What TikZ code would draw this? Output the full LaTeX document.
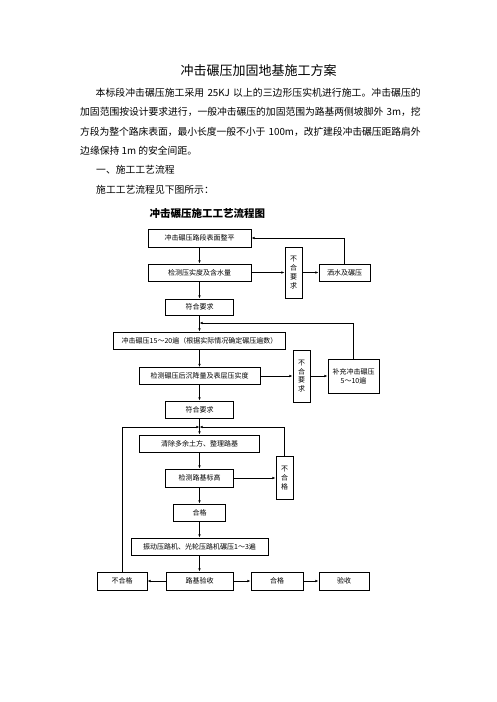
\documentclass[tikz,border=0pt]{standalone}
\usepackage{fontspec}
\setmainfont{Noto Sans CJK SC}
\usetikzlibrary{arrows.meta}
\XeTeXlinebreaklocale "zh"
\XeTeXlinebreakskip=0pt plus 2pt minus 0.5pt
\XeTeXlinebreakpenalty=10000
\begin{document}
\begin{tikzpicture}
[x=1pt,y=-1pt,%
  boxdecorate/.style={draw,line width=0.9pt,inner sep=0pt,align=center,
    font=\fontsize{7}{8.8}\selectfont},%
  linedecorate/.style={-{Latex[length=3.2pt,width=2.6pt]},line width=0.8pt},%
  textdecorate/.style={anchor=west,inner sep=0pt,font=\fontsize{9.8}{19}\selectfont}]
\fill[white] (0,0) rectangle (496,702);
\useasboundingbox (0,0) rectangle (496,702);
%% heading and text
\node (title) at (258.5,71) [inner sep=0pt,font=\fontsize{13}{15}\selectfont] {冲击碾压加固地基施工方案};
\foreach \linename/\x/\y/\w/\words in {
  la/95.5/92.9/325/{本标段冲击碾压施工采用~25KJ~以上的三边形压实机进行施工。冲击碾压的},
  lb/80/112.2/340.5/{加固范围按设计要求进行，一般冲击碾压的加固范围为路基两侧坡脚外~3m，挖},
  lc/80/131.5/340.5/{方段为整个路床表面，最小长度一般不小于~100m，改扩建段冲击碾压距路肩外}} {
  \node (\linename) at (\x,\y) [textdecorate,text width=\w pt]
    {\parindent=0pt\leftskip=0pt\rightskip=0pt\parfillskip=0pt \words\par};
}
\node (ld) at (80,150.8) [textdecorate] {边缘保持 1m 的安全间距。};
\node (le) at (96,169.5) [textdecorate] {一、施工工艺流程};
\node (lf) at (96,189.3) [textdecorate] {施工工艺流程见下图所示：};
\node (charttitle) at (207.4,213.3) [inner sep=0pt,font=\fontsize{10.5}{12}\selectfont\bfseries] {冲击碾压施工工艺流程图};
%% nodes or boxes
\foreach \nodename/\code/\x/\y/\w/\h in {
  s1/冲击碾压路段表面整平/199.5/238/103/18,
  c1/检测压实度及含水量/199.5/272.5/103/17,
  n1/{不\\合\\要\\求}/293.5/272.5/17/51,
  w1/洒水及碾压/344.5/272.5/51/17,
  k1/符合要求/199.5/307/68/16,
  r1/冲击碾压15～20遍（根据实际情况确定碾压遍数）/199.5/340.5/172/17,
  c2/检测碾压后沉降量及表层压实度/199.5/376/121/17,
  n2/{不\\合\\要\\求}/301.5/376/17/52,
  b2/{补充冲击碾压\\5～10遍}/353.5/376/51/34,
  k2/符合要求/199.5/409.5/68/17,
  cl/清除多余土方、整理路基/199.5/443.5/120/17,
  c3/检测路基标高/199.5/478/68/18,
  n3/{不\\合\\格}/284.5/478/17/43,
  k3/合格/199.5/512.5/52/17,
  v/振动压路机、光轮压路机碾压1～3遍/199.5/546.5/137/17,
  ys/路基验收/199.5/581/67/18,
  fb/不合格/122/581/50/18,
  hg/合格/277/581/52/18,
  ac/验收/344/581/50/18} {
  \node (\nodename) at (\x,\y) [boxdecorate,minimum width=\w pt,minimum height=\h pt] {\code};
}
%% edges or lines
\coordinate (m1) at (199.5,323);
\coordinate (m2) at (199.5,427);
\path
\foreach \startnode/\endnode in {s1/c1, c1/k1, k1/r1, r1/c2, c2/k2,
  k2/cl, cl/c3, c3/k3, k3/v, v/ys, c1/n1, n1/w1, c2/n2, n2/b2,
  c3/n3, ys/fb, ys/hg, hg/ac} {
  (\startnode) edge[linedecorate] node {} (\endnode)
};
\draw[linedecorate] (w1.north) |- (s1.east);
\draw[linedecorate] (b2.north) |- (m1);
\draw[linedecorate] (fb.north) |- (m2);
\draw[linedecorate] (n3.north) |- (m2);
\end{tikzpicture}
\end{document}
